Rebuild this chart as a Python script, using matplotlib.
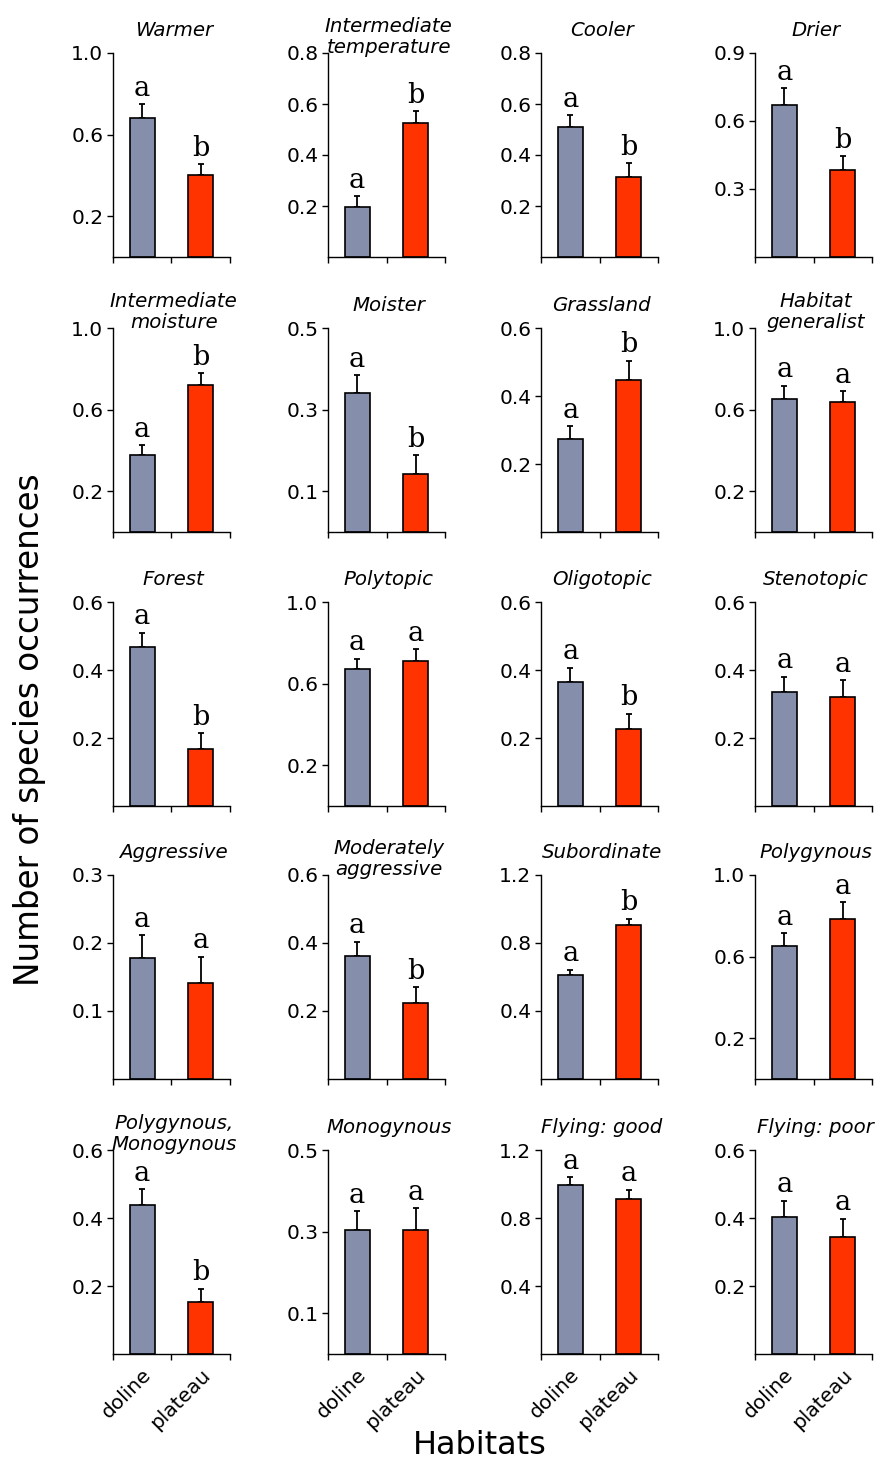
import numpy as np
import matplotlib
matplotlib.use("Agg")
import matplotlib.pyplot as plt

plt.rcParams['font.family'] = ['DejaVu Sans']

# panel titles, row by row
titles = ["Warmer", "Intermediate\ntemperature", "Cooler", "Drier",
          "Intermediate\nmoisture", "Moister", "Grassland", "Habitat\ngeneralist",
          "Forest", "Polytopic", "Oligotopic", "Stenotopic",
          "Aggressive", "Moderately\naggressive", "Subordinate", "Polygynous",
          "Polygynous,\nMonogynous", "Monogynous", "Flying: good", "Flying: poor"]

habitats = ["doline", "plateau"]

# mean number of species occurrences
doline_mean = [0.68, 0.196, 0.51, 0.67,
               0.379, 0.341, 0.275, 0.654,
               0.468, 0.672, 0.365, 0.336,
               0.178, 0.363, 0.611, 0.654,
               0.437, 0.304, 0.993, 0.402]
plateau_mean = [0.40, 0.526, 0.314, 0.384,
                0.719, 0.141, 0.448, 0.637,
                0.169, 0.711, 0.227, 0.320,
                0.141, 0.225, 0.907, 0.782,
                0.153, 0.303, 0.909, 0.343]

# upper error bars (SE)
doline_err = [0.07, 0.043, 0.047, 0.076,
              0.046, 0.043, 0.037, 0.063,
              0.042, 0.050, 0.042, 0.044,
              0.034, 0.041, 0.033, 0.060,
              0.048, 0.046, 0.049, 0.049]
plateau_err = [0.056, 0.047, 0.055, 0.062,
               0.060, 0.047, 0.056, 0.054,
               0.046, 0.058, 0.045, 0.050,
               0.039, 0.045, 0.037, 0.085,
               0.039, 0.054, 0.057, 0.055]

# significance letters
doline_letter = ["a"] * 20
plateau_letter = ["b", "b", "b", "b",
                  "b", "b", "b", "a",
                  "b", "a", "b", "a",
                  "a", "b", "b", "a",
                  "b", "a", "a", "a"]

# y tick values for each panel
yticks = [[0.2, 0.6, 1.0], [0.2, 0.4, 0.6, 0.8], [0.2, 0.4, 0.6, 0.8], [0.3, 0.6, 0.9],
          [0.2, 0.6, 1.0], [0.1, 0.3, 0.5], [0.2, 0.4, 0.6], [0.2, 0.6, 1.0],
          [0.2, 0.4, 0.6], [0.2, 0.6, 1.0], [0.2, 0.4, 0.6], [0.2, 0.4, 0.6],
          [0.1, 0.2, 0.3], [0.2, 0.4, 0.6], [0.4, 0.8, 1.2], [0.2, 0.6, 1.0],
          [0.2, 0.4, 0.6], [0.1, 0.3, 0.5], [0.4, 0.8, 1.2], [0.2, 0.4, 0.6]]

colors = ["#858EAB", "#FF3300"]

W, H = 877, 1463
fig = plt.figure(figsize=(W / 100, H / 100), dpi=100)

col_left = [113, 328, 541, 755]
row_top = [53, 328, 602, 875, 1150]
ax_w, ax_h = 117, 204

x = np.array([0.5, 1.5])

for i in range(20):
    r, c = divmod(i, 4)
    ax = fig.add_axes([col_left[c] / W, 1 - (row_top[r] + ax_h) / H, ax_w / W, ax_h / H])
    vals = [doline_mean[i], plateau_mean[i]]
    errs = [doline_err[i], plateau_err[i]]
    ax.errorbar(x, vals, yerr=[[0, 0], errs], fmt='none', ecolor='black',
                elinewidth=1.3, capsize=2.5, capthick=1.3, zorder=1)
    ax.bar(x, vals, width=0.42, color=colors, edgecolor='black', linewidth=1.2, zorder=2)

    for xi, v, e, lt in zip(x, vals, errs, [doline_letter[i], plateau_letter[i]]):
        ax.annotate(lt, (xi, v + e), xytext=(0, 6), textcoords='offset points',
                    ha='center', va='baseline', fontsize=19.5, family='DejaVu Serif')

    ax.set_xlim(0, 2)
    ax.set_ylim(0, yticks[i][-1])
    ax.set_yticks(yticks[i])
    ax.set_yticklabels([f"{t:.1f}" for t in yticks[i]])
    ax.set_xticks([0, 1, 2])
    ax.set_xticklabels([])
    ax.tick_params(axis='both', direction='out', length=4, width=1, labelsize=14.5, pad=3)
    for s in ['top', 'right']:
        ax.spines[s].set_visible(False)
    for s in ['left', 'bottom']:
        ax.spines[s].set_linewidth(1)

    if r == 4:
        ax.set_xticks(x, minor=True)
        ax.set_xticklabels(habitats, minor=True, rotation=45, ha='right',
                           rotation_mode='anchor', fontsize=14.5)
        ax.tick_params(axis='x', which='minor', length=0, pad=8)

    off = 0 if "\n" in titles[i] else 12
    ax.annotate(titles[i], (0.52, 1.0), xycoords='axes fraction', xytext=(0, off),
                textcoords='offset points', ha='center', va='baseline',
                fontsize=14.2, style='italic', linespacing=1.15)

fig.text(30 / W, 1 - 730 / H, "Number of species occurrences", rotation=90,
         ha='center', va='center', fontsize=23.5)
fig.text(480 / W, 1 - 1445 / H, "Habitats", ha='center', va='center', fontsize=23)

fig.savefig("out.png", dpi=100)
